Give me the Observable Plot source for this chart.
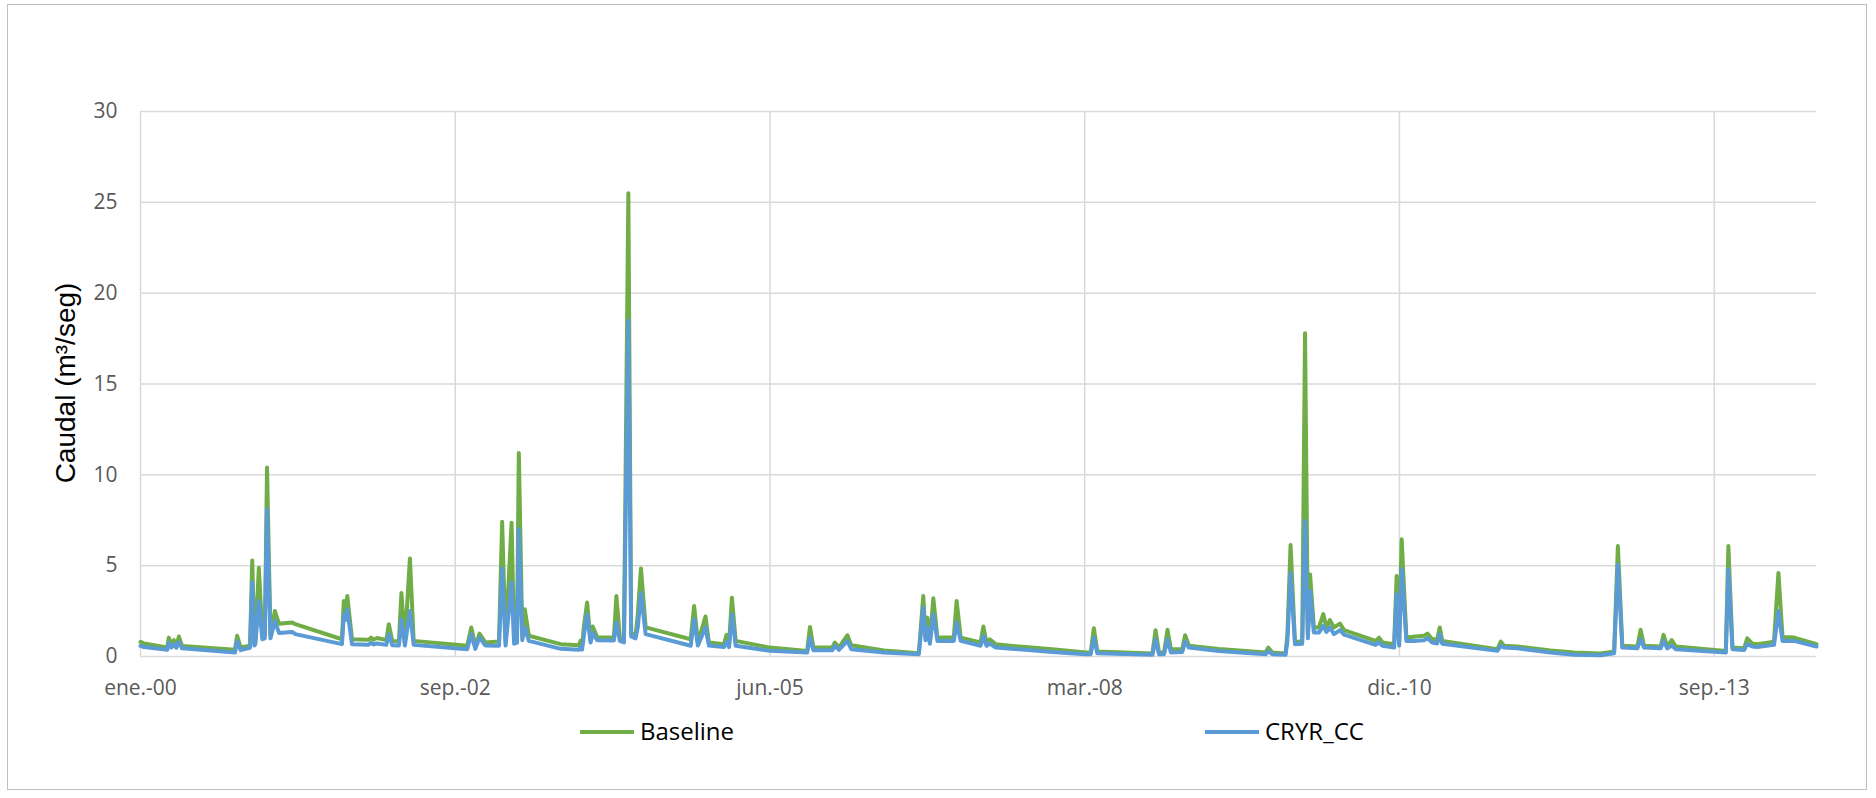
<!DOCTYPE html>
<html>
<head>
<meta charset="utf-8">
<script src="https://cdn.jsdelivr.net/npm/d3@7"></script>
<script src="https://cdn.jsdelivr.net/npm/@observablehq/plot@0.6"></script>
<style>
  html, body { margin: 0; padding: 0; background: #fff; }
  #wrap { position: relative; width: 1876px; height: 798px; overflow: hidden; background: #fff; }
  #frame { position: absolute; left: 7px; top: 4px; width: 1860px; height: 786px; border: 1.5px solid #BFBFBF; box-sizing: border-box; pointer-events: none; }
  #chart { position: absolute; left: 0; top: 0; }
  .leg { position: absolute; font-family: "Open Sans", sans-serif; font-size: 24px; color: #000; line-height: 30px; white-space: nowrap; }
  .sw { position: absolute; height: 4px; }
  #ytitle { position: absolute; left: 66px; top: 383px; transform: translate(-50%, -50%) rotate(-90deg); font-family: "Liberation Sans", Arial, sans-serif; font-size: 28px; color: #000; white-space: nowrap; line-height: 32px; }
</style>
</head>
<body>
<div id="wrap">
  <div id="chart"></div>
  <div id="ytitle"></div>
  <div id="legend"></div>
  <div id="frame"></div>
</div>
<script>
// ---- data ----
const seriesNames = ["Baseline", "CRYR_CC"];
const seriesColors = ["#70AD47", "#5B9BD5"];
const yTicks = [0, 5, 10, 15, 20, 25, 30];
const xTickDates = ["2000-01-01", "2002-09-27", "2005-06-23", "2008-03-19", "2010-12-14", "2013-09-09"];
const xTickLabels = ["ene.-00", "sep.-02", "jun.-05", "mar.-08", "dic.-10", "sep.-13"];
const yLabel = "Caudal (m³/seg)";

const dates = [
"2000-01-01","2000-01-12","2000-03-26","2000-03-31","2000-04-08","2000-04-16","2000-04-24","2000-05-02","2000-05-12",
"2000-10-27","2000-11-03","2000-11-14","2000-11-30","2000-12-14","2000-12-21","2000-12-28","2000-12-31",
"2001-01-11","2001-01-22","2001-01-30","2001-02-06","2001-02-17","2001-03-03","2001-03-16","2001-04-27","2001-05-07",
"2001-10-02","2001-10-08","2001-10-13","2001-10-19","2001-11-03","2001-12-26",
"2002-01-03","2002-01-10","2002-01-22","2002-02-20","2002-02-28","2002-03-11","2002-04-01","2002-04-09","2002-04-20",
"2002-05-06","2002-05-18","2002-11-04","2002-11-17","2002-11-30","2002-12-13",
"2003-01-01","2003-02-13","2003-02-23","2003-03-06","2003-03-25","2003-04-02","2003-04-07","2003-04-11","2003-04-17",
"2003-04-28","2003-05-06","2003-05-19","2003-08-28","2003-10-25","2003-10-30","2003-11-04","2003-11-10","2003-11-20",
"2003-12-01","2003-12-08","2003-12-22",
"2004-02-13","2004-02-21","2004-03-03","2004-03-16","2004-03-30","2004-04-08","2004-04-22","2004-04-29","2004-05-09",
"2004-05-24","2004-10-14","2004-10-25","2004-11-06","2004-11-30","2004-12-11",
"2005-01-28","2005-02-05","2005-02-13","2005-02-22","2005-03-06","2005-06-23","2005-10-19","2005-10-28","2005-11-08",
"2006-01-07","2006-01-15","2006-01-28","2006-02-24","2006-03-08","2006-06-20","2006-10-09","2006-10-23","2006-10-30",
"2006-11-05","2006-11-13","2006-11-24","2006-12-07",
"2007-01-28","2007-02-06","2007-02-19","2007-04-23","2007-05-02","2007-05-12","2007-05-22","2007-06-10","2007-08-23",
"2007-12-07",
"2008-03-22","2008-04-07","2008-04-17","2008-04-28","2008-10-20","2008-10-30","2008-11-10","2008-11-26","2008-12-07",
"2008-12-18",
"2009-01-23","2009-02-01","2009-02-13","2009-05-19","2009-10-15","2009-10-23","2009-11-05","2009-12-17","2009-12-23",
"2010-01-02","2010-01-16","2010-02-08","2010-02-17","2010-02-26","2010-03-05","2010-03-17","2010-04-02","2010-04-16",
"2010-04-26","2010-05-07","2010-05-20","2010-06-08","2010-06-21","2010-09-29","2010-10-10","2010-10-21","2010-11-27",
"2010-12-05","2010-12-13","2010-12-21",
"2011-01-05","2011-02-04","2011-03-02","2011-03-13","2011-03-28","2011-04-13","2011-04-21","2011-04-29","2011-10-21",
"2011-11-01","2011-11-11","2011-12-24",
"2012-04-07","2012-06-21","2012-09-13","2012-10-26","2012-11-07","2012-11-21",
"2013-01-08","2013-01-18","2013-01-29","2013-03-23","2013-04-01","2013-04-13","2013-04-27","2013-05-10","2013-10-16",
"2013-10-24","2013-11-06","2013-12-13","2013-12-23",
"2014-01-08","2014-01-24","2014-03-18","2014-04-01","2014-04-14","2014-05-21","2014-07-31"
];

const baseline = [
0.80,0.72,0.50,1.04,0.65,0.90,0.62,1.10,0.58,
0.37,1.14,0.50,0.55,0.60,5.29,0.75,0.86,
4.89,1.14,1.20,10.40,1.14,2.50,1.80,1.87,1.78,
0.95,3.06,2.40,3.33,0.95,0.92,
1.04,0.92,1.02,0.90,1.78,0.85,0.82,3.50,0.75,
5.40,0.86,0.59,1.60,0.55,1.26,
0.77,0.82,7.42,0.77,7.36,0.86,2.60,0.90,11.20,
1.14,2.60,1.14,0.68,0.62,0.86,0.60,1.68,2.97,
0.86,1.65,1.04,
1.04,3.33,1.04,0.95,25.50,1.32,1.14,2.33,4.85,
1.60,0.95,2.78,0.77,2.20,0.77,
0.68,1.19,0.68,3.24,0.86,0.49,0.31,1.63,0.49,
0.49,0.77,0.49,1.17,0.62,0.33,0.18,3.33,1.10,
2.14,0.86,3.20,1.04,
1.04,3.06,1.04,0.77,1.65,0.75,0.95,0.68,0.55,
0.40,
0.22,0.22,1.56,0.27,0.16,1.45,0.22,0.22,1.47,
0.40,
0.40,1.17,0.59,0.42,0.22,0.49,0.22,0.16,1.23,
6.14,0.77,0.86,17.80,1.20,4.52,1.60,1.60,2.33,
1.60,2.00,1.60,1.81,1.45,0.86,1.04,0.77,0.68,
4.43,0.80,6.45,
1.04,1.10,1.14,1.26,0.95,0.95,1.60,0.86,0.40,
0.82,0.59,0.55,
0.33,0.22,0.16,0.27,6.08,0.59,
0.55,1.47,0.59,0.55,1.19,0.55,0.90,0.55,0.31,
6.08,0.49,0.45,1.00,
0.71,0.68,0.82,4.60,1.08,1.04,0.68
];

const cryrCC = [
0.58,0.52,0.37,0.75,0.50,0.68,0.48,0.80,0.45,
0.22,0.85,0.35,0.42,0.48,4.07,0.60,0.70,
3.06,0.95,1.00,8.10,1.00,1.96,1.30,1.35,1.23,
0.68,2.30,2.00,2.60,0.68,0.65,
0.75,0.66,0.72,0.64,1.23,0.62,0.60,2.05,0.60,
2.50,0.64,0.40,1.23,0.42,1.04,
0.60,0.59,4.85,0.60,4.07,0.70,2.40,0.75,7.00,
0.90,1.60,0.86,0.42,0.37,0.50,0.38,1.20,2.33,
0.77,1.30,0.90,
0.88,1.87,0.86,0.77,18.50,1.10,1.00,1.60,3.50,
1.23,0.59,2.05,0.60,1.60,0.60,
0.52,0.80,0.52,2.33,0.59,0.31,0.22,1.04,0.35,
0.35,0.59,0.36,0.86,0.40,0.22,0.13,2.69,0.90,
1.60,0.70,2.33,0.86,
0.86,1.87,0.86,0.59,1.14,0.59,0.72,0.49,0.40,
0.25,
0.13,0.13,1.04,0.18,0.09,0.95,0.13,0.13,0.95,
0.22,
0.25,0.82,0.49,0.30,0.13,0.30,0.13,0.09,0.86,
4.60,0.68,0.70,7.45,1.00,3.60,1.32,1.32,1.68,
1.35,1.60,1.23,1.45,1.20,0.64,0.77,0.59,0.49,
3.42,0.60,4.80,
0.86,0.86,0.90,1.00,0.77,0.72,1.23,0.70,0.31,
0.59,0.49,0.45,
0.22,0.09,0.07,0.18,5.07,0.49,
0.45,0.95,0.49,0.45,0.86,0.45,0.60,0.40,0.22,
4.80,0.40,0.36,0.68,
0.55,0.52,0.64,2.50,0.86,0.86,0.55
];

// ---- build table ----
const rows = dates.map((d, i) => ({ date: new Date(d), baseline: baseline[i], cryr: cryrCC[i] }));
const xTicks = xTickDates.map(d => new Date(d));
const labelMap = new Map(xTicks.map((d, i) => [+d, xTickLabels[i]]));

const chart = Plot.plot({
  width: 1876,
  height: 710,
  marginLeft: 140,
  marginRight: 60,
  marginTop: 111,
  marginBottom: 54,
  x: { type: "utc", domain: [new Date("2000-01-01"), new Date("2014-07-31")] },
  y: { domain: [0, 30] },
  style: { fontFamily: "'Open Sans', sans-serif", fontSize: "21px", color: "#595959", background: "transparent", overflow: "visible" },
  marks: [
    Plot.gridY(yTicks, { stroke: "#D9D9D9", strokeOpacity: 1, strokeWidth: 1.5 }),
    Plot.gridX(xTicks, { stroke: "#D9D9D9", strokeOpacity: 1, strokeWidth: 1.5 }),
    Plot.axisY(yTicks, { tickSize: 0, tickPadding: 23, label: null, fill: "#595959", fontSize: 21 }),
    Plot.axisX(xTicks, { tickSize: 0, tickPadding: 24, label: null, tickFormat: d => labelMap.get(+d), fill: "#595959", fontSize: 21 }),
    Plot.line(rows, { x: "date", y: "baseline", stroke: seriesColors[0], strokeWidth: 4, strokeLinejoin: "round" }),
    Plot.line(rows, { x: "date", y: "cryr", stroke: seriesColors[1], strokeWidth: 4, strokeLinejoin: "round" })
  ]
});
document.getElementById("chart").appendChild(chart);
document.getElementById("ytitle").textContent = yLabel;

// ---- legend ----
const legend = document.getElementById("legend");
const legPos = [{ sw: 580, tx: 640 }, { sw: 1205, tx: 1265 }];
seriesNames.forEach((name, i) => {
  const sw = document.createElement("div");
  sw.className = "sw";
  sw.style.left = legPos[i].sw + "px";
  sw.style.top = "730px";
  sw.style.width = "54px";
  sw.style.background = seriesColors[i];
  legend.appendChild(sw);
  const t = document.createElement("div");
  t.className = "leg";
  t.style.left = legPos[i].tx + "px";
  t.style.top = "716px";
  t.textContent = name;
  legend.appendChild(t);
});
</script>
</body>
</html>
